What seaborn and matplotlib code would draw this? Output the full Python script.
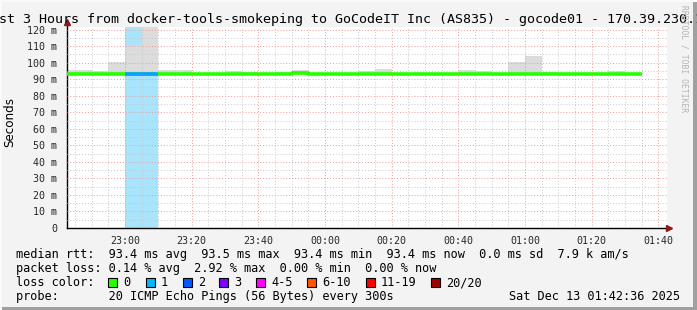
import matplotlib
matplotlib.use("Agg")
import matplotlib.pyplot as plt
import seaborn as sns
import pandas as pd
from matplotlib.patches import Rectangle
from matplotlib.ticker import MultipleLocator, FixedLocator

# ---------------- data ----------------
bin_start = ["22:40", "22:45", "22:50", "22:55", "23:00", "23:05", "23:10", "23:15",
             "23:20", "23:25", "23:30", "23:35", "23:40", "23:45", "23:50", "23:55",
             "00:00", "00:05", "00:10", "00:15", "00:20", "00:25", "00:30", "00:35",
             "00:40", "00:45", "00:50", "00:55", "01:00", "01:05", "01:10", "01:15",
             "01:20", "01:25", "01:30"]
median_rtt = [93.4, 93.4, 93.4, 93.4, 93.4, 93.4, 93.4, 93.4,
              93.4, 93.4, 93.4, 93.4, 93.4, 93.4, 94.0, 93.4,
              93.4, 93.4, 93.4, 93.4, 93.4, 93.4, 93.4, 93.4,
              93.4, 93.4, 93.4, 93.4, 93.4, 93.4, 93.4, 93.4,
              93.4, 93.4, 93.4]
smoke_min = [93.0] * 35
smoke_max = [95.8, 95.8, 95.0, 100.6, 110.0, 125.0, 95.8, 95.8,
             94.0, 94.0, 95.2, 94.2, 94.0, 94.5, 95.8, 94.0,
             94.0, 94.0, 95.2, 96.4, 94.0, 94.0, 94.0, 94.0,
             95.8, 95.2, 94.0, 100.4, 103.8, 94.5, 94.0, 94.0,
             94.0, 94.7, 94.0]
loss = [0, 0, 0, 0, 1, 1, 0, 0,
        0, 0, 0, 0, 0, 0, 0, 0,
        0, 0, 0, 0, 0, 0, 0, 0,
        0, 0, 0, 0, 0, 0, 0, 0,
        0, 0, 0]

loss_labels = ["0", "1", "2", "3", "4-5", "6-10", "11-19", "20/20"]
loss_colors = ["#26ff00", "#00b8ff", "#0059ff", "#7e00ff", "#ff00ff", "#ff5500", "#ff0000", "#a10000"]
loss_bg_color = "#a8e5fd"
loss_line_color = "#0aa0ff"

y_ticks = [0, 10, 20, 30, 40, 50, 60, 70, 80, 90, 100, 110, 120]
y_tick_labels = ["0", "10 m", "20 m", "30 m", "40 m", "50 m", "60 m", "70 m",
                 "80 m", "90 m", "100 m", "110 m", "120 m"]
x_tick_labels = ["23:00", "23:20", "23:40", "00:00", "00:20", "00:40", "01:00", "01:20", "01:40"]
x_start_label = "22:42:36"
x_end_label = "01:42:36"

title = "Last 3 Hours from docker-tools-smokeping to GoCodeIT Inc (AS835) - gocode01 - 170.39.230.1"
row_median = "median rtt:  93.4 ms avg  93.5 ms max  93.4 ms min  93.4 ms now  0.0 ms sd  7.9 k am/s"
row_loss = "packet loss: 0.14 % avg  2.92 % max  0.00 % min  0.00 % now"
row_color = "loss color:"
row_probe = "probe:       20 ICMP Echo Pings (56 Bytes) every 300s"
row_date = "Sat Dec 13 01:42:36 2025"


def to_min(s):
    parts = [int(p) for p in s.split(":")]
    h, m = parts[0], parts[1]
    sec = parts[2] if len(parts) > 2 else 0
    hh = h - 23 if h >= 22 else h + 1
    return hh * 60 + m + sec / 60.0


starts = [to_min(s) for s in bin_start]
step = starts[1] - starts[0]
df = pd.DataFrame({"start": starts, "median": median_rtt, "smin": smoke_min,
                   "smax": smoke_max, "loss": loss})
edges = starts + [starts[-1] + step]
line_df = pd.DataFrame({"t": edges, "median": median_rtt + [median_rtt[-1]]})

# ---------------- figure ----------------
W, H = 697, 310
sns.set_theme(style="white")
plt.rcParams["font.family"] = ["DejaVu Sans Mono", "DejaVu Sans"]

fig = plt.figure(figsize=(W / 100, H / 100), dpi=100, facecolor="#f3f3f3")


def fx(x):
    return x / W


def fy(y):
    return 1 - y / H


L, R, T, B = 67, 667, 27, 228
ax = fig.add_axes([fx(L), fy(B), (R - L) / W, (B - T) / H])
ax.set_facecolor("white")

ymax = 121.6
xmin, xmax = to_min(x_start_label), to_min(x_end_label)

# loss background
lb = df[df["loss"] > 0]
ax.bar(lb["start"], ymax, width=step, align="edge", bottom=0,
       color=loss_bg_color, linewidth=0, zorder=1)
# smoke
ax.bar(df["start"], df["smax"] - df["smin"], bottom=df["smin"], width=step,
       align="edge", color="#dcdcdc", linewidth=0, zorder=1.2)

# median line
sns.lineplot(data=line_df, x="t", y="median", drawstyle="steps-post",
             color=loss_colors[0], linewidth=2.6, ax=ax, zorder=4,
             solid_capstyle="butt", estimator=None)
for _, r in lb.iterrows():
    ax.hlines(r["median"], r["start"], r["start"] + step, color=loss_line_color,
              linewidth=2.6, zorder=4.5, capstyle="butt")

ax.set_xlim(xmin, xmax)
ax.set_ylim(0, ymax)

major_x = [to_min(s) for s in x_tick_labels]
ax.xaxis.set_major_locator(FixedLocator(major_x))
ax.xaxis.set_minor_locator(MultipleLocator(5))
ax.set_xticklabels(x_tick_labels)
ax.yaxis.set_major_locator(FixedLocator(y_ticks))
ax.yaxis.set_minor_locator(MultipleLocator(5))
ax.set_yticklabels(y_tick_labels)

ax.set_axisbelow(False)
ax.grid(which="major", color="#f09a9a", linestyle=(0, (1, 2)), linewidth=0.7)
ax.grid(which="minor", color="#c8c8c8", linestyle=(0, (1, 2)), linewidth=0.7)
for gl in ax.get_xgridlines() + ax.get_ygridlines():
    gl.set_zorder(3)

ax.tick_params(axis="both", which="major", length=2, width=0.7, color="#000000",
               labelsize=7.2, pad=4, direction="out")
ax.tick_params(axis="both", which="minor", length=1.5, width=0.7, color="#e06060")
ax.tick_params(axis="y", pad=5)
ax.tick_params(axis="x", pad=4)
for lab in ax.get_xticklabels() + ax.get_yticklabels():
    lab.set_family("DejaVu Sans Mono")

for s in ["top", "right"]:
    ax.spines[s].set_visible(False)
for s in ["left", "bottom"]:
    ax.spines[s].set_color("black")
    ax.spines[s].set_linewidth(1.0)
ax.spines["left"].set_bounds(0, ymax + 2.5)
ax.set_xlabel("")
ax.set_ylabel("")

# axis arrows
ax.plot([0], [ymax + 2.8], marker="^", color="#8b1a1a", markersize=4.5,
        transform=ax.get_yaxis_transform(), clip_on=False, zorder=6)
ax.plot([1.003], [0], marker=">", color="#8b1a1a", markersize=4.5,
        transform=ax.transAxes, clip_on=False, zorder=6)

# title
fig.text(fx(343), fy(19), title, ha="center", va="center", fontsize=9.6,
         family="DejaVu Sans Mono", color="black")
# y label
fig.text(fx(10), fy(122), "Seconds", rotation=90, ha="center", va="center",
         fontsize=8.6, family="DejaVu Sans", color="black")
# watermark
fig.text(fx(684), fy(5), "RRDTOOL / TOBI OETIKER", rotation=270, ha="center",
         va="top", fontsize=5.8, family="DejaVu Sans Mono", color="#b4b4b4")

# legend rows
fs = 8.56
mono = "DejaVu Sans Mono"


def t(x, y, s, ha="left"):
    fig.text(fx(x), fy(y), s, ha=ha, va="center", fontsize=fs, family=mono, color="black")


r1, r2, r3, r4 = 254.5, 268.5, 282.5, 296.5
t(16, r1, row_median)
t(16, r2, row_loss)
t(16, r3, row_color)
box_x = [108.3, 145.7, 182.7, 219.3, 256, 307, 365.7, 430.7]
for bx, lab, col in zip(box_x, loss_labels, loss_colors):
    fig.patches.append(Rectangle((fx(bx), fy(r3 + 4.5)), 9 / W, 9 / H,
                                 transform=fig.transFigure, facecolor=col,
                                 edgecolor="black", linewidth=0.8))
    t(bx + 15, r3, lab)
t(16, r4, row_probe)
t(680, r4, row_date, ha="right")

# 3D frame
fig.patches.append(Rectangle((fx(693), 0), 4 / W, 1, transform=fig.transFigure,
                             facecolor="#a0a0a0", linewidth=0))
fig.patches.append(Rectangle((0, 0), 1, 3.5 / H, transform=fig.transFigure,
                             facecolor="#a0a0a0", linewidth=0))
fig.patches.append(Rectangle((0, 0), 2 / W, 1, transform=fig.transFigure,
                             facecolor="#fafafa", linewidth=0))
fig.patches.append(Rectangle((0, 1 - 2 / H), 1, 2 / H, transform=fig.transFigure,
                             facecolor="#fafafa", linewidth=0))

fig.savefig("out.png", dpi=100, facecolor=fig.get_facecolor())
